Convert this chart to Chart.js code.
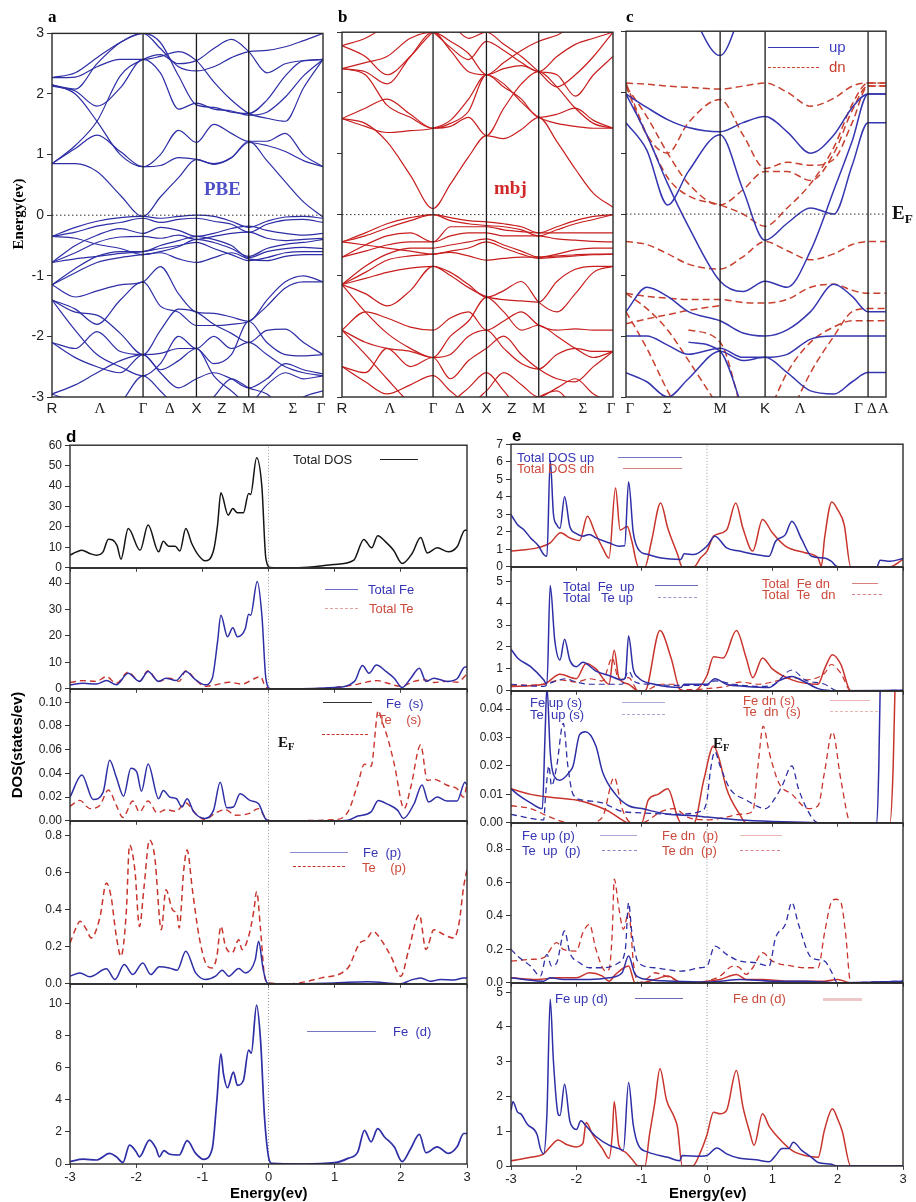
<!DOCTYPE html>
<html>
<head>
<meta charset="utf-8">
<script src="https://cdn.jsdelivr.net/npm/chart.js"></script>
<style>
body { margin: 0; background: #fff; }
#stage { position: relative; width: 916px; height: 1202px; overflow: hidden; font-family: "Liberation Sans", Arial, sans-serif; }
#stage canvas { position: absolute; }
.t { position: absolute; white-space: pre; line-height: 1; }
.ln { position: absolute; height: 0; }
</style>
</head>
<body>
<div id="stage"></div>
<script>
// ---- band structure: k path (fraction of the path) and energies in eV ----
const kPathAB = [0, 0.086, 0.166, 0.252, 0.336, 0.400, 0.467, 0.533, 0.597, 0.662, 0.726, 0.793, 0.861, 0.928, 1]
const kLinesAB = [0.336, 0.533, 0.726]
const kTickPosAB = [0, 0.177, 0.336, 0.435, 0.533, 0.627, 0.726, 0.889, 0.993]
const kTickNamesAB = ['R', 'Λ', 'Γ', 'Δ', 'X', 'Z', 'M', 'Σ', 'Γ']

const pbeBands = [
  [2.27, 2.35, 2.6, 2.85, 3.0, 2.75, 2.45, 2.38, 2.45, 2.6, 2.7, 2.72, 2.78, 2.88, 3.0],
  [2.27, 2.28, 2.45, 2.57, 2.57, 2.62, 2.7, 2.55, 2.2, 1.9, 1.68, 1.6, 1.55, 2.1, 2.57],
  [2.15, 2.08, 2.5, 2.85, 3.0, 2.85, 2.3, 1.82, 1.78, 1.7, 1.68, 1.9, 2.3, 2.55, 2.57],
  [2.13, 2.05, 1.8, 2.1, 2.57, 2.35, 1.75, 1.85, 1.75, 1.72, 1.65, 1.7, 1.95, 2.3, 2.57],
  [0.85, 1.15, 1.55, 2.3, 2.57, 2.65, 2.5, 2.55, 2.75, 2.9, 2.7, 2.35, 2.5, 2.55, 2.57],
  [2.15, 2.0, 1.55, 1.0, 0.8, 1.0, 1.4, 1.2, 1.5, 1.35, 1.22, 1.22, 1.35, 1.0, 0.8],
  [0.85, 1.1, 1.32, 1.05, 0.8, 0.82, 0.95, 0.92, 0.85, 0.95, 1.2, 1.15, 1.05, 0.9, 0.8],
  [0.85, 0.85, 0.72, 0.33, -0.02, 0.3, 0.62, 0.92, 0.84, 0.95, 1.22, 0.9, 0.55, 0.22, -0.03],
  [-0.35, -0.2, -0.1, -0.04, -0.02, -0.05, -0.02, 0.0, -0.02, -0.1, -0.2, -0.1, -0.03, -0.02, -0.05],
  [-0.35, -0.28, -0.18, -0.12, -0.05, -0.12, -0.07, -0.05, -0.1, -0.15, -0.28, -0.15, -0.08, -0.07, -0.12],
  [-0.78, -0.5, -0.33, -0.22, -0.3, -0.2, -0.25, -0.35, -0.3, -0.22, -0.18, -0.25, -0.3, -0.33, -0.3],
  [-0.78, -0.62, -0.45, -0.36, -0.35, -0.38, -0.33, -0.4, -0.35, -0.3, -0.28, -0.38, -0.42, -0.4, -0.38],
  [-1.15, -0.88, -0.68, -0.6, -0.6, -0.5, -0.42, -0.35, -0.4, -0.5, -0.7, -0.6, -0.55, -0.53, -0.55],
  [-1.15, -0.95, -0.78, -0.7, -0.65, -0.62, -0.72, -0.78, -0.7, -0.62, -0.72, -0.75, -0.68, -0.65, -0.65],
  [-0.78, -0.72, -0.68, -0.63, -0.6, -0.55, -0.5, -0.45, -0.55, -0.65, -0.75, -0.7, -0.62, -0.6, -0.6],
  [-0.35, -0.38, -0.48, -0.55, -0.65, -0.6, -0.52, -0.4, -0.45, -0.55, -0.68, -0.55, -0.48, -0.45, -0.4],
  [-1.15, -1.35, -1.25, -1.15, -1.1, -0.85, -1.3, -1.6, -1.62, -1.68, -1.75, -1.4, -1.1, -1.0, -1.1],
  [-1.4, -1.55, -1.8, -1.4, -1.1, -1.5, -1.6, -1.82, -1.82, -1.8, -1.75, -1.5, -1.2, -1.1, -1.1],
  [-1.4, -1.6, -1.65, -1.95, -2.3, -1.9, -1.55, -1.6, -1.8, -1.95, -2.1, -1.9, -1.88, -2.1, -2.3],
  [-1.4, -1.9, -2.3, -2.5, -2.65, -2.45, -2.0, -2.2, -2.0, -2.2, -2.1, -2.3, -2.5, -2.6, -2.65],
  [-2.1, -2.2, -1.92, -2.25, -2.3, -2.28, -2.2, -2.2, -2.45, -2.3, -1.75, -2.1, -2.3, -2.32, -2.3],
  [-2.1, -2.35, -2.5, -2.6, -2.3, -2.6, -2.85, -2.7, -2.6, -2.7, -2.85, -2.7, -2.45, -2.55, -2.62],
  [-2.95, -2.8, -2.6, -2.4, -2.3, -2.55, -2.4, -2.2, -2.65, -2.9, -3.1, -2.8, -2.6, -2.7, -2.65],
  [-2.95, -3.1, -3.3, -3.1, -2.65, -2.9, -3.2, -3.3, -3.0, -2.7, -2.85, -2.95, -3.2, -3.0, -2.9]
]

const mbjBands = [
  [1.58, 1.5, 1.2, 0.65, 0.1, 0.5, 0.95, 1.3, 1.25, 1.4, 1.6, 1.2, 0.75, 0.35, 0.12],
  [1.58, 1.75, 1.9, 1.65, 1.42, 1.45, 1.6, 1.3, 1.75, 2.15, 2.35, 2.1, 1.75, 1.5, 1.42],
  [1.58, 1.45, 1.35, 1.38, 1.42, 1.55, 1.9, 2.3, 2.15, 1.85, 1.6, 1.5, 1.45, 1.42, 1.42],
  [2.4, 2.3, 1.8, 1.6, 1.42, 1.5, 1.7, 2.3, 2.1, 1.9, 1.6, 1.65, 1.75, 1.55, 1.42],
  [2.4, 2.35, 2.15, 2.6, 3.0, 2.7, 2.35, 2.3, 2.4, 2.45, 2.35, 2.3, 1.95, 2.3, 2.6],
  [2.78, 2.9, 3.1, 3.2, 3.0, 2.75, 2.55, 2.85, 2.7, 2.5, 2.35, 2.6, 2.8, 2.9, 3.0],
  [2.4, 2.5, 2.6, 2.9, 3.0, 2.85, 2.65, 2.3, 2.5, 2.7, 2.85, 2.95, 3.1, 3.05, 3.0],
  [2.78, 2.6, 2.3, 2.6, 3.0, 3.1, 2.9, 3.0, 2.8, 2.6, 2.35, 2.1, 2.3, 2.6, 3.0],
  [-0.45, -0.3, -0.15, -0.05, 0.0, -0.05, -0.1, -0.12, -0.15, -0.2, -0.3, -0.2, -0.1, -0.03, 0.0],
  [-0.45, -0.35, -0.22, -0.1, 0.0, -0.1, -0.15, -0.18, -0.2, -0.25, -0.35, -0.25, -0.15, -0.08, 0.0],
  [-0.7, -0.5, -0.35, -0.3, -0.45, -0.2, -0.2, -0.2, -0.25, -0.28, -0.3, -0.3, -0.3, -0.3, -0.3],
  [-0.7, -0.6, -0.5, -0.45, -0.45, -0.35, -0.3, -0.3, -0.35, -0.35, -0.35, -0.4, -0.42, -0.44, -0.45],
  [-1.15, -0.85, -0.65, -0.55, -0.55, -0.5, -0.45, -0.4, -0.5, -0.6, -0.7, -0.65, -0.58, -0.55, -0.55],
  [-1.15, -0.95, -0.75, -0.68, -0.65, -0.62, -0.68, -0.75, -0.72, -0.7, -0.7, -0.68, -0.66, -0.65, -0.65],
  [-0.45, -0.5, -0.55, -0.6, -0.65, -0.6, -0.55, -0.45, -0.55, -0.65, -0.72, -0.7, -0.68, -0.66, -0.65],
  [-1.15, -1.05, -0.95, -0.88, -0.85, -1.0, -1.2, -1.35, -1.4, -1.42, -1.44, -1.1, -0.9, -0.85, -0.85],
  [-1.15, -1.3, -1.5, -1.25, -0.85, -0.95, -1.15, -1.36, -1.25, -1.1, -1.44, -1.6, -1.3, -0.95, -0.85],
  [-1.9, -1.6, -1.7, -1.85, -1.9, -1.7, -1.6, -1.9, -1.75, -1.6, -1.82, -1.9, -1.88, -1.9, -1.9],
  [-1.15, -1.6, -1.95, -2.2, -2.35, -2.0, -1.75, -1.36, -1.6, -1.9, -1.82, -2.0, -2.2, -2.35, -2.25],
  [-1.9, -2.1, -2.2, -2.25, -2.35, -2.3, -2.0, -1.9, -2.2, -2.45, -2.54, -2.3, -2.2, -2.25, -2.25],
  [-2.5, -2.6, -2.2, -2.5, -2.35, -2.7, -2.4, -2.2, -2.0, -2.3, -2.54, -2.7, -2.75, -2.5, -2.25],
  [-2.5, -2.75, -2.95, -2.8, -2.65, -2.9, -3.1, -2.9, -2.6, -2.8, -3.0, -2.85, -2.7, -2.95, -3.1],
  [-1.9, -2.3, -2.7, -3.1, -3.3, -3.1, -2.85, -2.6, -2.9, -3.2, -3.0, -2.9, -3.2, -3.3, -3.2]
]

const kPathC = [0, 0.08, 0.16, 0.24, 0.362, 0.45, 0.535, 0.62, 0.71, 0.8, 0.87, 0.931, 1]
const kLinesC = [0.362, 0.535, 0.931]
const kTickPosC = [0.015, 0.158, 0.362, 0.535, 0.67, 0.895, 0.945, 0.99]
const kTickNamesC = ['Γ', 'Σ', 'M', 'K', 'Λ', 'Γ', 'Δ', 'A']

const upBands = [
  [null, null, null, 3.4, 2.6, 3.4, null, null, null, null, null, null, null],
  [1.97, 1.75, 1.55, 1.42, 1.35, 1.5, 1.6, 1.35, 1.0, 1.3, 1.75, 1.97, 1.97],
  [1.5, 1.05, 0.15, 0.7, 1.3, 0.4, -0.43, -0.15, 0.1, 0.0, 0.8, 1.5, 1.5],
  [1.97, 1.3, 0.5, -0.2, -1.1, -1.27, -1.1, -1.2, -0.6, 0.4, 1.2, 1.97, 1.97],
  [-1.6, -1.2, -1.35, -1.6, -1.75, -1.95, -2.0, -1.9, -1.6, -1.15, -1.35, -1.6, -1.6],
  [-2.0, -2.0, -2.15, -2.3, -2.2, -2.35, -2.35, -2.3, -2.05, -2.0, -2.0, -2.0, -2.0],
  [-2.6, -2.75, -3.0, -2.7, -2.25, -2.4, -2.35, -2.6, -2.9, -2.95, -2.75, -2.6, -2.6],
  [null, null, null, -2.1, -2.25, -3.2, null, null, null, null, null, null, null]
]

const dnBands = [
  [2.15, 2.13, 2.1, 2.08, 2.05, 2.1, 2.15, 2.0, 1.77, 1.9, 2.1, 2.15, 2.15],
  [2.15, 1.3, 0.6, 0.3, 0.15, 0.0, -0.2, 0.1, 0.5, 1.1, 1.8, 2.15, 2.15],
  [2.1, 1.3, 1.0, 1.5, 1.88, 1.3, 0.75, 0.85, 0.8, 0.9, 1.5, 2.1, 2.1],
  [2.1, 1.6, 1.0, 0.5, 0.15, 0.4, 0.7, 0.7, 0.55, 1.0, 1.7, 2.1, 2.1],
  [-0.45, -0.5, -0.65, -0.82, -0.9, -0.7, -0.45, -0.6, -0.75, -0.65, -0.5, -0.45, -0.45],
  [-1.3, -1.35, -1.38, -1.4, -1.4, -1.45, -1.46, -1.4, -1.2, -1.15, -1.25, -1.3, -1.3],
  [-1.8, -1.72, -1.65, -1.58, -1.5, null, null, null, null, null, null, null, null],
  [-1.3, -1.55, -1.9, -2.4, -3.2, null, null, null, null, null, null, null, null],
  [-1.6, -2.2, -2.9, -3.5, null, null, null, null, null, null, null, null, null],
  [null, null, null, null, null, null, -3.4, -2.6, -2.1, -1.85, -1.75, -1.75, -1.75],
  [null, null, null, null, null, null, null, -3.4, -2.6, -2.0, -1.6, -1.55, -1.55],
  [null, null, null, -1.9, -2.1, -3.3, null, null, null, null, null, null, null]
]

// ---- DOS: [energy (eV), states/eV] ----
const eTicks = [-3, -2, -1, 0, 1, 2, 3]

const totalDos = [[-3,6.2],[-2.9,7.8],[-2.82,8.6],[-2.7,7],[-2.6,6.2],[-2.5,7.8],[-2.42,14],[-2.29,11],[-2.23,4.2],[-2.12,19.2],[-1.94,8.6],[-1.82,20.9],[-1.66,7.8],[-1.59,13],[-1.51,10.6],[-1.41,10.6],[-1.34,8.2],[-1.25,19.2],[-1.16,11.9],[-1.06,6.2],[-0.96,3.4],[-0.83,8.6],[-0.77,20.9],[-0.72,36.7],[-0.61,25.8],[-0.54,29],[-0.47,26.9],[-0.38,26.9],[-0.3,36.4],[-0.27,35.9],[-0.18,53.8],[-0.1,39.6],[-0.04,4.6],[0.03,0.2],[0.28,0],[0.6,0.3],[0.98,1.6],[1.29,3.8],[1.44,13.9],[1.56,9.8],[1.65,15.7],[1.77,12.7],[1.89,8.6],[2.02,2.1],[2.17,7],[2.3,14.8],[2.4,7.3],[2.55,9.8],[2.72,7.8],[2.85,10.3],[2.97,18.4],[3,18.4]]
const totalFe = [[-3,1.5],[-2.8,2.1],[-2.6,1.8],[-2.45,3.1],[-2.3,1.5],[-2.12,5.9],[-1.95,2.8],[-1.82,6.5],[-1.66,2.8],[-1.55,4],[-1.4,3.1],[-1.25,6.5],[-1.1,3.4],[-0.96,1.5],[-0.85,4],[-0.77,17.8],[-0.72,27.8],[-0.62,19.7],[-0.54,23.1],[-0.47,19.7],[-0.35,22.8],[-0.3,28.2],[-0.27,27.8],[-0.17,40.6],[-0.1,27.8],[-0.04,4],[0.03,0],[0.3,0],[1,0.5],[1.3,2.8],[1.42,8.8],[1.52,5.9],[1.63,9],[1.78,6.5],[1.9,4],[2.02,0.5],[2.15,4],[2.28,7.8],[2.38,2.8],[2.5,4],[2.7,2.8],[2.85,3.8],[2.97,8.2],[3,8.2]]
const totalTe = [[-3,2.4],[-2.8,3.1],[-2.6,2.8],[-2.45,4.6],[-2.3,2.1],[-2.12,6.3],[-1.95,2.8],[-1.82,6.8],[-1.66,2.8],[-1.5,4],[-1.35,2.8],[-1.25,6.8],[-1.1,3.4],[-0.96,0.9],[-0.8,1.5],[-0.6,2.5],[-0.4,1.8],[-0.2,4],[-0.12,4.6],[-0.05,0.9],[0.03,0],[0.5,0],[1,0.5],[1.3,1.5],[1.45,2.4],[1.65,3.1],[1.8,2.1],[2,0.9],[2.2,2.8],[2.35,3.4],[2.5,2.4],[2.7,2.8],[2.85,2.5],[3,5.5]]
const feS = [[-3,0.02],[-2.82,0.0386],[-2.65,0.018],[-2.5,0.024],[-2.4,0.051],[-2.3,0.0367],[-2.19,0.0208],[-2.08,0.0444],[-1.99,0.041],[-1.92,0.025],[-1.82,0.048],[-1.66,0.0186],[-1.59,0.0256],[-1.49,0.02],[-1.39,0.0186],[-1.31,0.0117],[-1.23,0.0186],[-1.13,0.0075],[-0.96,0.002],[-0.83,0.009],[-0.73,0.0325],[-0.63,0.011],[-0.53,0.0117],[-0.43,0.0228],[-0.28,0.0172],[-0.15,0.0144],[-0.05,0.002],[0.03,0],[1,0],[1.2,0.0005],[1.35,0.004],[1.55,0.0075],[1.66,0.0172],[1.8,0.014],[1.95,0.009],[2.04,0.002],[2.2,0.0144],[2.32,0.0303],[2.42,0.0158],[2.55,0.02],[2.7,0.0167],[2.85,0.0167],[2.97,0.0325],[3,0.03]]
const teS = [[-3,0.0122],[-2.85,0.0172],[-2.7,0.0103],[-2.55,0.013],[-2.42,0.026],[-2.3,0.013],[-2.2,0.0028],[-2.05,0.0167],[-1.95,0.0075],[-1.82,0.0167],[-1.68,0.0067],[-1.55,0.0094],[-1.4,0.008],[-1.25,0.015],[-1.1,0.006],[-0.96,0.001],[-0.8,0.0067],[-0.65,0.0094],[-0.5,0.0047],[-0.3,0.006],[-0.15,0.0103],[-0.05,0.0028],[0.03,0],[1,0.001],[1.2,0.0075],[1.35,0.031],[1.45,0.0478],[1.55,0.046],[1.66,0.093],[1.72,0.083],[1.8,0.07],[1.9,0.048],[2.05,0.0103],[2.15,0.0283],[2.3,0.064],[2.4,0.034],[2.5,0.035],[2.7,0.03],[2.85,0.027],[2.95,0.02],[3,0.031]]
const feP = [[-3,0.041],[-2.85,0.059],[-2.7,0.038],[-2.45,0.081],[-2.32,0.023],[-2.18,0.104],[-2.05,0.05],[-1.9,0.113],[-1.78,0.05],[-1.65,0.092],[-1.5,0.086],[-1.38,0.074],[-1.25,0.176],[-1.1,0.059],[-0.95,0.023],[-0.8,0.041],[-0.7,0.074],[-0.6,0.041],[-0.45,0.083],[-0.35,0.059],[-0.2,0.131],[-0.15,0.23],[-0.08,0.077],[-0.02,0.005],[0.05,0],[1,0.005],[1.5,0.011],[2,0],[2.15,0.02],[2.3,0.032],[2.45,0.014],[2.6,0.023],[2.8,0.02],[2.95,0.032],[3,0.032]]
const teP = [[-3,0.221],[-2.9,0.31],[-2.85,0.338],[-2.75,0.293],[-2.68,0.248],[-2.55,0.356],[-2.45,0.545],[-2.38,0.473],[-2.3,0.257],[-2.23,0.149],[-2.15,0.383],[-2.1,0.751],[-2.02,0.618],[-1.95,0.31],[-1.88,0.527],[-1.8,0.778],[-1.72,0.689],[-1.62,0.293],[-1.55,0.509],[-1.45,0.4],[-1.38,0.374],[-1.35,0.302],[-1.28,0.618],[-1.23,0.724],[-1.15,0.509],[-1.05,0.257],[-0.95,0.113],[-0.85,0.086],[-0.78,0.149],[-0.72,0.311],[-0.65,0.203],[-0.55,0.167],[-0.45,0.239],[-0.4,0.185],[-0.3,0.257],[-0.22,0.4],[-0.18,0.5],[-0.12,0.293],[-0.06,0.041],[0,0.005],[0.3,0],[0.8,0.032],[1.2,0.086],[1.38,0.221],[1.48,0.239],[1.58,0.284],[1.7,0.239],[1.85,0.149],[2,0.041],[2.12,0.185],[2.28,0.374],[2.38,0.185],[2.5,0.293],[2.65,0.266],[2.8,0.248],[2.88,0.329],[2.95,0.527],[3,0.617]]
const feD = [[-3,0.15],[-2.8,0.3],[-2.6,0.25],[-2.4,0.66],[-2.3,0.45],[-2.2,0.1],[-2.1,1.18],[-2,0.76],[-1.95,0.45],[-1.8,1.49],[-1.7,0.97],[-1.65,0.45],[-1.58,0.83],[-1.5,0.62],[-1.35,0.56],[-1.23,1.45],[-1.1,0.66],[-0.98,0.29],[-0.85,0.97],[-0.78,3.97],[-0.72,6.86],[-0.68,5.6],[-0.62,4.75],[-0.53,5.72],[-0.47,4.9],[-0.38,5.2],[-0.3,7.1],[-0.26,6.9],[-0.18,9.9],[-0.12,7.7],[-0.06,2.9],[0,0.45],[0.05,0.04],[0.5,0],[1,0.08],[1.2,0.35],[1.35,0.76],[1.45,2.1],[1.55,1.38],[1.65,2.2],[1.75,1.7],[1.9,1.07],[2.02,0.15],[2.15,0.97],[2.28,1.84],[2.38,0.7],[2.55,1.07],[2.72,0.66],[2.85,1.07],[2.95,1.9],[3,1.9]]

const dosUp = [[-3,2.98],[-2.97,2.8],[-2.9,2.4],[-2.8,2.1],[-2.7,1.65],[-2.58,1.2],[-2.5,0.7],[-2.45,0.6],[-2.4,6.1],[-2.35,3],[-2.3,2.4],[-2.25,2.2],[-2.18,4],[-2.1,2.3],[-2,1.9],[-1.9,1.75],[-1.8,1.85],[-1.7,1.65],[-1.5,1.37],[-1.35,1.18],[-1.26,1.2],[-1.2,4.85],[-1.13,2],[-1.05,1],[-0.9,0.7],[-0.7,0.5],[-0.4,0.42],[-0.35,0.74],[-0.2,0.7],[0,1.18],[0.12,1.75],[0.3,1.08],[0.5,0.9],[0.75,0.7],[0.95,0.6],[1.05,1.46],[1.2,1.84],[1.3,2.6],[1.45,1.56],[1.6,0.6],[1.8,0.5],[1.9,0.32],[2,0],[2.6,0],[2.65,0.38],[2.8,0.32],[3,0.47]]
const dosDn = [[-3,0.9],[-2.6,1.08],[-2.4,1.37],[-2.24,1.94],[-2.1,1.65],[-1.95,1.5],[-1.83,2.88],[-1.72,2.0],[-1.6,1.1],[-1.5,0.5],[-1.4,4.5],[-1.33,2.1],[-1.22,2.3],[-1.15,1.46],[-1.05,0],[-0.95,0],[-0.85,1.46],[-0.71,3.64],[-0.6,2.2],[-0.45,0.7],[-0.38,0],[-0.2,0],[-0.1,0.5],[0,0.9],[0.1,1.75],[0.3,2.1],[0.44,3.64],[0.55,2.2],[0.7,0.9],[0.85,2.7],[1,1.94],[1.2,1.18],[1.5,0.8],[1.7,0.5],[1.75,0.04],[1.8,1.65],[1.91,3.7],[2,3.26],[2.1,2.4],[2.2,0],[2.8,0],[3,0.42]]
const feUp = [[-3,1.9],[-2.9,1.5],[-2.7,1.1],[-2.5,0.5],[-2.45,0.3],[-2.4,4.8],[-2.33,2.3],[-2.25,1.4],[-2.18,2.35],[-2.1,1.4],[-2,1.1],[-1.9,1.3],[-1.7,0.9],[-1.5,0.7],[-1.3,0.5],[-1.25,0.6],[-1.2,2.5],[-1.13,1],[-1.05,0.6],[-0.8,0.3],[-0.4,0.15],[-0.35,0.3],[0,0.3],[0.12,0.55],[0.3,0.3],[0.6,0.2],[0.95,0.15],[1.1,0.45],[1.3,0.65],[1.5,0.4],[1.7,0.1],[2,0],[3,0.02]]
const teUp = [[-3,0.3],[-2.8,0.25],[-2.5,0.2],[-2.4,0.35],[-2.25,0.5],[-2.18,0.55],[-2,0.4],[-1.8,0.3],[-1.5,0.3],[-1.3,0.3],[-1.2,0.9],[-1.1,0.4],[-0.9,0.3],[-0.5,0.25],[0,0.25],[0.12,0.45],[0.4,0.3],[0.8,0.2],[1,0.25],[1.3,0.95],[1.5,0.5],[1.8,0.3],[2,0],[3,0.02]]
const feDn = [[-3,0.2],[-2.5,0.3],[-2.25,0.75],[-2,0.55],[-1.85,1.25],[-1.7,1],[-1.5,0.3],[-1.42,1.85],[-1.35,0.6],[-1.2,0.3],[-1.05,0],[-0.95,0],[-0.72,2.75],[-0.55,1.5],[-0.4,0],[-0.2,0],[0,0.7],[0.1,1.55],[0.25,1.5],[0.45,2.75],[0.6,1.5],[0.7,0.6],[0.85,1.5],[1,1],[1.3,0.5],[1.7,0.3],[1.8,1],[1.92,1.65],[2.05,1.2],[2.2,0],[3,0]]
const teDn = [[-3,0.25],[-2.5,0.3],[-2.25,0.5],[-2,0.4],[-1.8,0.55],[-1.6,0.45],[-1.45,1.5],[-1.35,0.5],[-1.2,0.6],[-1.05,0],[-0.95,0],[-0.8,0.2],[-0.7,0.3],[-0.5,0.3],[-0.4,0.05],[-0.2,0.05],[0,0.1],[0.3,0.2],[0.5,0.4],[0.8,0.3],[1,0.4],[1.3,0.6],[1.5,0.5],[1.8,0.8],[1.9,1.2],[2.05,0.8],[2.2,0],[3,0]]
const feUpS = [[-3,0.012],[-2.9,0.01],[-2.7,0.007],[-2.52,0.005],[-2.48,0.03],[-2.45,0.048],[-2.4,0.025],[-2.35,0.017],[-2.25,0.015],[-2.1,0.018],[-2.05,0.02],[-1.95,0.031],[-1.86,0.032],[-1.7,0.027],[-1.6,0.018],[-1.4,0.01],[-1.2,0.006],[-1,0.005],[-0.6,0.003],[-0.2,0.0025],[0,0.002],[0.5,0.001],[1,0.0005],[2,0],[2.6,0],[2.63,0.02],[2.66,0.06],[2.7,0.09]]
const teUpS = [[-3,0.003],[-2.8,0.002],[-2.5,0.001],[-2.47,0.01],[-2.42,0.02],[-2.38,0.013],[-2.3,0.02],[-2.2,0.035],[-2.13,0.02],[-2.05,0.01],[-1.9,0.008],[-1.6,0.007],[-1.3,0.004],[-1,0.0035],[-0.5,0.003],[-0.1,0.004],[0,0.008],[0.05,0.018],[0.12,0.025],[0.2,0.02],[0.35,0.012],[0.6,0.008],[0.9,0.005],[1.05,0.009],[1.15,0.013],[1.3,0.02],[1.4,0.012],[1.6,0.002],[1.7,0],[3,0]]
const feDnS = [[-3,0.012],[-2.7,0.01],[-2.4,0.009],[-2,0.008],[-1.7,0.006],[-1.5,0.004],[-1.3,0.001],[-1.2,0],[-1,0],[-0.9,0.008],[-0.75,0.01],[-0.6,0.012],[-0.45,0.002],[-0.4,0],[-0.2,0],[-0.05,0.015],[0.1,0.027],[0.18,0.023],[0.3,0.012],[0.5,0.003],[0.6,0],[2.8,0],[2.85,0.02],[2.88,0.05],[2.92,0.08]]
const teDnS = [[-3,0.006],[-2.7,0.005],[-2.4,0.002],[-2.1,0],[-1.8,0],[-1.6,0.002],[-1.42,0.016],[-1.3,0.005],[-1.15,0],[-1,0],[-0.7,0.004],[-0.5,0.005],[-0.3,0.002],[0,0.001],[0.3,0.002],[0.5,0.003],[0.7,0.004],[0.78,0.02],[0.86,0.034],[0.95,0.025],[1.1,0.014],[1.3,0.01],[1.55,0.005],[1.7,0.006],[1.8,0.018],[1.92,0.032],[2.05,0.015],[2.2,0],[3,0]]
const feUpP = [[-3,0.03],[-2.8,0.02],[-2.5,0.01],[-2.4,0.03],[-2.2,0.02],[-1.8,0.02],[-1.5,0.03],[-1.3,0.06],[-1.2,0.16],[-1.1,0.05],[-0.9,0.02],[-0.5,0.01],[0,0.005],[0.2,0.01],[0.5,0.02],[1,0.01],[1.5,0.01],[2,0],[3,0.01]]
const teUpP = [[-3,0.2],[-2.9,0.16],[-2.7,0.1],[-2.55,0.04],[-2.45,0.17],[-2.38,0.1],[-2.3,0.12],[-2.18,0.31],[-2.1,0.18],[-1.95,0.12],[-1.8,0.09],[-1.6,0.09],[-1.35,0.12],[-1.25,0.2],[-1.2,0.48],[-1.15,0.3],[-1.05,0.12],[-0.8,0.09],[-0.4,0.07],[-0.1,0.09],[0,0.1],[0.12,0.22],[0.3,0.17],[0.5,0.13],[0.75,0.12],[0.95,0.1],[1.05,0.27],[1.2,0.35],[1.3,0.48],[1.4,0.35],[1.6,0.15],[1.8,0.13],[1.9,0.07],[2,0],[3,0.01]]
const feDnP = [[-3,0.03],[-2.6,0.02],[-2.3,0.03],[-2,0.03],[-1.8,0.06],[-1.6,0.04],[-1.5,0.01],[-1.4,0.05],[-1.2,0.1],[-1.1,0],[-1,0],[-0.8,0.02],[-0.6,0.04],[-0.45,0.01],[-0.4,0],[-0.2,0],[0,0.01],[0.2,0.02],[0.45,0.05],[0.6,0.02],[0.85,0.02],[1.2,0.01],[1.8,0.01],[2,0.02],[2.2,0],[3,0]]
const teDnP = [[-3,0.13],[-2.7,0.14],[-2.5,0.15],[-2.3,0.24],[-2.2,0.2],[-2,0.19],[-1.9,0.3],[-1.8,0.35],[-1.7,0.2],[-1.55,0.07],[-1.5,0.08],[-1.45,0.3],[-1.42,0.62],[-1.35,0.45],[-1.28,0.32],[-1.2,0.42],[-1.12,0.1],[-1.05,0],[-0.9,0.03],[-0.8,0.06],[-0.7,0.05],[-0.5,0.02],[-0.4,0],[-0.1,0],[0,0.01],[0.2,0.04],[0.4,0.1],[0.5,0.09],[0.6,0.05],[0.7,0.09],[0.85,0.18],[1,0.13],[1.3,0.1],[1.5,0.09],[1.7,0.09],[1.8,0.3],[1.9,0.48],[1.97,0.5],[2.05,0.48],[2.12,0.3],[2.2,0],[3,0]]
const feUpD = [[-3,1.6],[-2.97,1.85],[-2.9,1.55],[-2.85,1.5],[-2.75,1.2],[-2.6,0.9],[-2.55,0.5],[-2.5,0.35],[-2.45,1.5],[-2.4,4.8],[-2.35,3],[-2.28,1.5],[-2.25,1.45],[-2.18,2.35],[-2.1,1.3],[-2.05,1.1],[-2,1.05],[-1.93,1.3],[-1.85,1.15],[-1.7,0.85],[-1.5,0.6],[-1.35,0.5],[-1.28,0.45],[-1.2,2.4],[-1.13,1.2],[-1.05,0.6],[-0.9,0.4],[-0.6,0.25],[-0.42,0.15],[-0.38,0.3],[-0.1,0.28],[0,0.3],[0.15,0.52],[0.3,0.35],[0.5,0.22],[0.75,0.18],[0.95,0.12],[1.05,0.3],[1.15,0.5],[1.25,0.5],[1.32,0.68],[1.45,0.45],[1.6,0.25],[1.7,0.1],[1.9,0.05],[2,0],[3,0]]
const feDnD = [[-3,0.15],[-2.7,0.25],[-2.5,0.35],[-2.4,0.55],[-2.28,0.75],[-2.15,0.62],[-2,0.55],[-1.9,0.65],[-1.85,1.25],[-1.75,0.9],[-1.6,0.5],[-1.5,0.22],[-1.45,0.9],[-1.42,1.85],[-1.35,0.6],[-1.25,0.4],[-1.15,0.2],[-1.05,0],[-0.95,0],[-0.88,0.9],[-0.8,1.8],[-0.72,2.8],[-0.62,1.9],[-0.5,1.4],[-0.45,1.1],[-0.38,0],[-0.22,0],[-0.1,0.4],[0,0.9],[0.1,1.55],[0.2,1.5],[0.3,1.6],[0.45,2.75],[0.55,1.7],[0.65,1],[0.72,0.6],[0.85,1.5],[0.95,1.15],[1.1,0.8],[1.3,0.45],[1.5,0.3],[1.7,0.25],[1.8,1.05],[1.92,1.65],[2,1.35],[2.07,1],[2.2,0],[3,0]]

// ---- colours ----
const BLUE = '#2e2ea6'
const RED = '#c8342c'
const BLACK = '#151515'

const stage = document.getElementById('stage')
Chart.defaults.font.family = '"Liberation Sans", Arial, sans-serif'

// box around every plot area
const frame = {
  id: 'frame',
  afterDatasetsDraw(chart) {
    const {ctx, chartArea: a} = chart
    ctx.save()
    ctx.strokeStyle = '#2a2a2a'
    ctx.lineWidth = 1.4
    ctx.strokeRect(a.left, a.top, a.right - a.left, a.bottom - a.top)
    ctx.restore()
  }
}

// box = [left, top, width, height] of the plot area, pad = [left, top, right, bottom]
function panel(box, pad, datasets, x, y) {
  const cv = document.createElement('canvas')
  const W = box[2] + pad[0] + pad[2]
  const H = box[3] + pad[1] + pad[3]
  cv.width = W
  cv.height = H
  cv.style.left = (box[0] - pad[0]) + 'px'
  cv.style.top = (box[1] - pad[1]) + 'px'
  cv.style.width = W + 'px'
  cv.style.height = H + 'px'
  stage.appendChild(cv)
  x.afterFit = s => { s.height = pad[3] }
  y.afterFit = s => { s.width = pad[0] }
  return new Chart(cv, {
    type: 'line',
    data: {datasets},
    options: {
      responsive: false,
      animation: false,
      devicePixelRatio: 1,
      layout: {padding: {top: pad[1], right: pad[2], left: 0, bottom: 0}},
      plugins: {legend: {display: false}, tooltip: {enabled: false}},
      elements: {point: {radius: 0}, line: {cubicInterpolationMode: 'monotone', borderWidth: 1.3}},
      scales: {x, y}
    },
    plugins: [frame]
  })
}

function straight(p0, p1, color, dash, w) {
  return {data: [p0, p1], borderColor: color, borderWidth: w, borderDash: dash,
    tension: 0, cubicInterpolationMode: 'default'}
}

function bandSets(k, bands, color, dash, w) {
  return bands.map(b => ({
    data: k.map((x, i) => ({x, y: b[i]})),
    borderColor: color, borderWidth: w, borderDash: dash, spanGaps: false
  }))
}

function guideSets(kLines) {
  const s = kLines.map(k => straight({x: k, y: -3}, {x: k, y: 3}, '#1a1a1a', [], 1.3))
  s.push(straight({x: 0, y: 0}, {x: 1, y: 0}, '#333', [1.5, 2.5], 1))
  return s
}

function kAxis(pos, names) {
  return {
    type: 'linear', min: 0, max: 1,
    afterBuildTicks: s => { s.ticks = pos.map(v => ({value: v})) },
    ticks: {autoSkip: false, maxRotation: 0, padding: 3, color: '#222',
      font: c => ({family: 'RXZK'.includes(names[c.index]) ? '"Liberation Sans"' : '"Liberation Serif"', size: 15}),
      callback: (v, i) => names[i]},
    grid: {display: false, drawTicks: false},
    border: {display: false}
  }
}

function eAxis(labels) {
  return {
    type: 'linear', min: -3, max: 3,
    afterBuildTicks: s => { s.ticks = eTicks.map(v => ({value: v})) },
    ticks: {display: labels, autoSkip: false, maxRotation: 0, padding: 2, color: '#222',
      font: {size: 13}, callback: v => String(v)},
    grid: {drawOnChartArea: false, tickLength: 4, color: '#444'},
    border: {display: false}
  }
}

function valAxis(min, max, ticks, dec, labels, size) {
  return {
    type: 'linear', min, max,
    afterBuildTicks: s => { s.ticks = ticks.map(v => ({value: v})) },
    ticks: {autoSkip: false, padding: 3, color: '#222', font: {size: size || 12},
      callback: v => labels ? Number(v).toFixed(dec) : ''},
    grid: {drawOnChartArea: false, tickLength: 5, color: '#333'},
    border: {display: false}
  }
}

function dosSet(pts, color, dash, w) {
  return {data: pts.map(p => ({x: p[0], y: p[1]})), borderColor: color,
    borderWidth: w || 1.5, borderDash: dash || []}
}

function dosPanel(box, bottom, max, ticks, dec, sets) {
  sets.push(straight({x: 0, y: 0}, {x: 0, y: max}, '#999', [1, 2], 1))
  panel(box, [40, 10, 10, bottom ? 22 : 10], sets, eAxis(bottom), valAxis(0, max, ticks, dec, true))
}

// ---- band structures ----
const bandTicks = [-3, -2, -1, 0, 1, 2, 3]
panel([52, 32, 271, 365], [40, 10, 10, 22],
  guideSets(kLinesAB).concat(bandSets(kPathAB, pbeBands, BLUE, [], 1.2)),
  kAxis(kTickPosAB, kTickNamesAB), valAxis(-3, 3, bandTicks, 0, true, 14))
panel([342, 32, 271, 365], [10, 10, 10, 22],
  guideSets(kLinesAB).concat(bandSets(kPathAB, mbjBands, '#c81e1e', [], 1.2)),
  kAxis(kTickPosAB, kTickNamesAB), valAxis(-3, 3, bandTicks, 0, false))
panel([626, 31, 260, 366], [10, 10, 12, 22],
  guideSets(kLinesC).concat(bandSets(kPathC, upBands, '#3636b0', [], 1.5))
    .concat(bandSets(kPathC, dnBands, '#c8402e', [7, 4], 1.5)),
  kAxis(kTickPosC, kTickNamesC), valAxis(-3, 3, bandTicks, 0, false))

// ---- DOS, panel d ----
dosPanel([70, 445, 397, 123], false, 60, [0, 10, 20, 30, 40, 50, 60], 0,
  [dosSet(totalDos, BLACK)])
dosPanel([70, 568, 397, 121], false, 45.6, [0, 10, 20, 30, 40], 0,
  [dosSet(totalFe, BLUE), dosSet(totalTe, RED, [6, 4], 1.4)])
dosPanel([70, 689, 397, 132], false, 0.111, [0, 0.02, 0.04, 0.06, 0.08, 0.1], 2,
  [dosSet(feS, BLUE), dosSet(teS, RED, [6, 4], 1.4)])
dosPanel([70, 821, 397, 163], false, 0.88, [0, 0.2, 0.4, 0.6, 0.8], 1,
  [dosSet(feP, BLUE), dosSet(teP, RED, [6, 4], 1.5)])
dosPanel([70, 984, 397, 180], true, 11.2, [0, 2, 4, 6, 8, 10], 0,
  [dosSet(feD, BLUE, [], 1.7)])

// ---- DOS, panel e ----
dosPanel([511, 444, 392, 123], false, 7, [0, 1, 2, 3, 4, 5, 6, 7], 0,
  [dosSet(dosUp, BLUE), dosSet(dosDn, RED)])
dosPanel([511, 567, 392, 124], false, 5.64, [0, 1, 2, 3, 4, 5], 0,
  [dosSet(feUp, BLUE), dosSet(teUp, BLUE, [6, 4], 1.2), dosSet(feDn, RED), dosSet(teDn, RED, [6, 4], 1.2)])
dosPanel([511, 691, 392, 132], false, 0.0463, [0, 0.01, 0.02, 0.03, 0.04], 2,
  [dosSet(feUpS, BLUE), dosSet(teUpS, BLUE, [6, 4], 1.3), dosSet(feDnS, RED), dosSet(teDnS, RED, [6, 4], 1.3)])
dosPanel([511, 823, 392, 160], false, 0.955, [0, 0.2, 0.4, 0.6, 0.8], 1,
  [dosSet(feUpP, BLUE), dosSet(teUpP, BLUE, [6, 4], 1.3), dosSet(feDnP, RED), dosSet(teDnP, RED, [6, 4], 1.3)])
dosPanel([511, 983, 392, 183], true, 5.26, [0, 1, 2, 3, 4, 5], 0,
  [dosSet(feUpD, BLUE), dosSet(feDnD, RED)])

// ---- text ----
function txt(s, x, cy, css) {
  const d = document.createElement('div')
  d.className = 't'
  d.textContent = s
  d.style.cssText = `left:${x}px;top:${cy}px;transform:translateY(-50%);` + (css || '')
  stage.appendChild(d)
  return d
}
function vtxt(s, cx, cy, css) {
  const d = txt(s, cx, cy, css)
  d.style.transform = 'translate(-50%,-50%) rotate(-90deg)'
  return d
}
function ef(x, cy, size) {
  const d = txt('', x, cy, `font-family:"Liberation Serif",serif;font-weight:bold;font-size:${size}px;color:#111;`)
  d.innerHTML = 'E<sub style="font-size:0.7em;vertical-align:-0.25em">F</sub>'
}
function key(x1, x2, y, color, dashed, w) {
  const d = document.createElement('div')
  d.className = 'ln'
  d.style.cssText = `left:${x1}px;top:${y}px;width:${x2 - x1}px;border-top:${w || 1}px ${dashed ? 'dashed' : 'solid'} ${color};`
  stage.appendChild(d)
}

const serifB = 'font-family:"Liberation Serif",serif;font-weight:bold;'
const LB = 'color:#3535b5;font-size:13px;'
const LR = 'color:#cc4a3c;font-size:13px;'

txt('a', 48, 16, serifB + 'font-size:17px;')
txt('b', 338, 16, serifB + 'font-size:17px;')
txt('c', 626, 16, serifB + 'font-size:17px;')
vtxt('Energy(ev)', 18, 214, serifB + 'font-size:15px;')
txt('PBE', 204, 188, serifB + 'font-size:19px;color:#4f4fc8;')
txt('mbj', 494, 187, serifB + 'font-size:19px;color:#d02828;')
ef(892, 214, 19)
key(768, 819, 47, '#3636b0', false, 1.5)
txt('up', 829, 46, 'color:#4040c0;font-size:15px;')
key(768, 819, 67, '#c8402e', true, 1.5)
txt('dn', 829, 66, 'color:#c8402e;font-size:15px;')

txt('d', 66, 436, 'font-weight:bold;font-size:17px;')
txt('e', 512, 435, 'font-weight:bold;font-size:17px;')
vtxt('DOS(states/ev)', 16, 745, 'font-weight:bold;font-size:15px;')
txt('Energy(ev)', 230, 1192, 'font-weight:bold;font-size:15px;')
txt('Energy(ev)', 669, 1192, 'font-weight:bold;font-size:15px;')

txt('Total DOS', 293, 459, 'color:#222;font-size:13px;')
key(380, 418, 459, '#222')
key(325, 358, 589, '#6a6ac8')
txt('Total Fe', 368, 589, LB)
key(325, 358, 608, '#e0a0a0', true)
txt('Total Te', 369, 608, LR)
key(323, 372, 702, '#333')
txt('Fe  (s)', 386, 703, LB)
key(322, 368, 734, RED, true)
txt('Te    (s)', 378, 719, LR)
ef(278, 744, 15)
key(290, 348, 852, '#8888cc')
txt('Fe  (p)', 363, 852, LB)
key(293, 345, 866, RED, true)
txt('Te    (p)', 362, 867, LR)
key(307, 376, 1031, '#7777c0')
txt('Fe  (d)', 393, 1031, LB)

txt('Total DOS up', 517, 457, LB)
key(618, 682, 457, '#7777c4')
txt('Total DOS dn', 517, 468, LR)
key(623, 682, 468, '#d88080')
txt('Total  Fe  up', 563, 586, LB)
key(655, 698, 585, '#6a6ab8')
txt('Total   Te up', 563, 597, LB)
key(658, 697, 597, '#9a9ad0', true)
txt('Total  Fe dn', 762, 583, LR)
key(852, 878, 583, '#d88080')
txt('Total  Te   dn', 762, 594, LR)
key(852, 882, 594, '#d88080', true)
txt('Fe up (s)', 530, 702, LB)
key(622, 665, 702, '#a8a8d8')
txt('Te  up (s)', 530, 714, LB)
key(622, 665, 714, '#a8a8d8', true)
txt('Fe dn (s)', 743, 700, LR)
key(830, 870, 700, '#e8b8b0')
txt('Te  dn  (s)', 743, 711, LR)
key(830, 878, 711, '#e8b8b0', true)
ef(713, 745, 15)
txt('Fe up (p)', 522, 835, LB)
key(600, 637, 835, '#a8a8d8')
txt('Te  up  (p)', 522, 850, LB)
key(602, 637, 850, '#8888c8', true)
txt('Fe dn  (p)', 662, 835, LR)
key(740, 782, 835, '#e8b8b0')
txt('Te dn  (p)', 662, 850, LR)
key(740, 780, 850, '#d88080', true)
txt('Fe up (d)', 555, 998, LB)
key(635, 683, 998, '#6a6ab8', false, 1.5)
txt('Fe dn (d)', 733, 998, LR)
key(823, 862, 998, '#eec8c8', false, 3)
</script>
</body>
</html>
